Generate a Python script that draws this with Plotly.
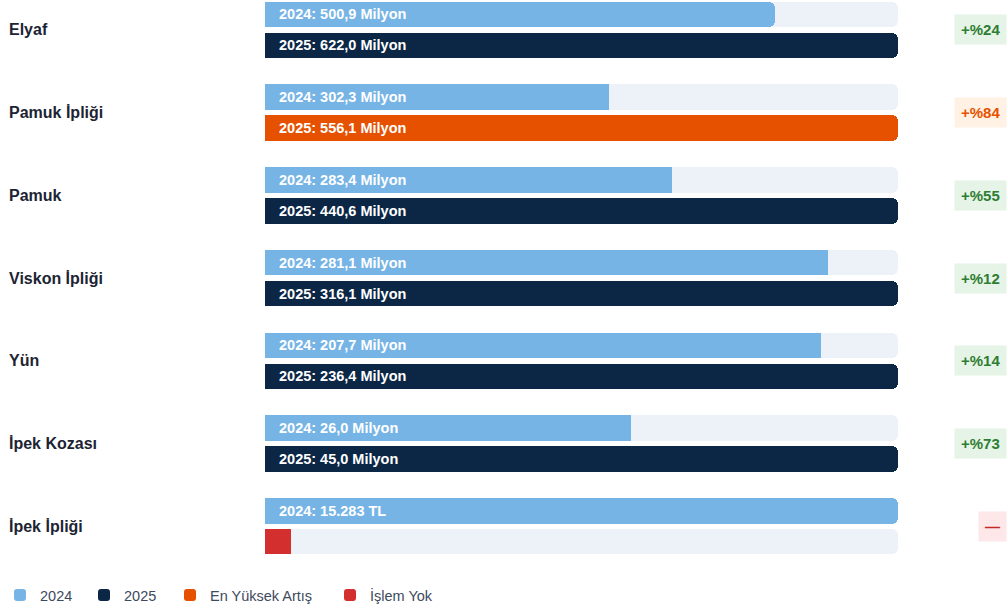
import plotly.graph_objects as go

# ---------------- data ----------------
categories = ["Elyaf", "Pamuk İpliği", "Pamuk", "Viskon İpliği", "Yün", "İpek Kozası", "İpek İpliği"]
values_2024 = [500.9, 302.3, 283.4, 281.1, 207.7, 26.0, 15283]
values_2025 = [622.0, 556.1, 440.6, 316.1, 236.4, 45.0, None]
labels_2024 = ["2024: 500,9 Milyon", "2024: 302,3 Milyon", "2024: 283,4 Milyon", "2024: 281,1 Milyon",
               "2024: 207,7 Milyon", "2024: 26,0 Milyon", "2024: 15.283 TL"]
labels_2025 = ["2025: 622,0 Milyon", "2025: 556,1 Milyon", "2025: 440,6 Milyon", "2025: 316,1 Milyon",
               "2025: 236,4 Milyon", "2025: 45,0 Milyon", ""]
legend_names = ["2024", "2025", "En Yüksek Artış", "İşlem Yok"]

# ---------------- styling ----------------
W, H = 1007, 611
TRACK_L, TRACK_W = 265, 633          # px of the bar track
ROW0, ROW_STEP = 14.5, 83            # px centre of first bar, px per category
SUB_OFF = 31 / ROW_STEP              # offset of the 2025 bar inside a category
BAR_W = 25.5 / ROW_STEP
STUB = 26 / TRACK_W                  # length of the "no transaction" marker

C24 = "#76b4e6"
C25 = "#0c2746"
CMAX = "#e65100"
CNONE = "#d32f2f"
CTRACK = "#edf1f8"
FONT = "Liberation Sans, Arial, sans-serif"
LEG_W = [39, 41, 115, 80]            # legend entry text widths (px)

n = len(categories)
y24 = [i for i in range(n)]
y25 = [i + SUB_OFF for i in range(n)]
ymid = [i + SUB_OFF / 2 for i in range(n)]

frac24, frac25, changes = [], [], []
for a, b in zip(values_2024, values_2025):
    if b is None:
        frac24.append(1.0)
        frac25.append(None)
        changes.append(None)
    else:
        m = max(a, b)
        frac24.append(a / m)
        frac25.append(b / m)
        changes.append(round((b / a - 1) * 100))

valid = [c for c in changes if c is not None]
imax = changes.index(max(valid))

fig = go.Figure()

# background tracks
fig.add_trace(go.Bar(
    x=[1.0] * (2 * n), y=y24 + y25, orientation="h", width=BAR_W,
    marker=dict(color=CTRACK, line=dict(width=0)), showlegend=False, hoverinfo="skip"))

# 2024
fig.add_trace(go.Bar(
    x=frac24, y=y24, orientation="h", width=BAR_W, name=legend_names[0], legendwidth=LEG_W[0],
    marker=dict(color=C24, line=dict(width=0)), hoverinfo="skip"))

# 2025 (regular)
idx25 = [i for i in range(n) if frac25[i] is not None and i != imax]
fig.add_trace(go.Bar(
    x=[frac25[i] for i in idx25], y=[y25[i] for i in idx25], orientation="h", width=BAR_W,
    name=legend_names[1], legendwidth=LEG_W[1],
    marker=dict(color=C25, line=dict(width=0)), hoverinfo="skip"))

# highest increase
fig.add_trace(go.Bar(
    x=[frac25[imax]], y=[y25[imax]], orientation="h", width=BAR_W,
    name=legend_names[2], legendwidth=LEG_W[2],
    marker=dict(color=CMAX, line=dict(width=0)), hoverinfo="skip"))

# no transaction
idxnone = [i for i in range(n) if frac25[i] is None]
fig.add_trace(go.Bar(
    x=[STUB] * len(idxnone), y=[y25[i] for i in idxnone], orientation="h", width=BAR_W,
    name=legend_names[3], legendwidth=LEG_W[3],
    marker=dict(color=CNONE, line=dict(width=0)), hoverinfo="skip"))

annotations = []
# bar texts
for i in range(n):
    annotations.append(dict(x=0, y=y24[i], xref="x", yref="y", text=labels_2024[i], showarrow=False,
                            xanchor="left", yanchor="middle", xshift=12,
                            font=dict(family=FONT, size=14.5, color="white", weight="bold")))
    if labels_2025[i]:
        annotations.append(dict(x=0, y=y25[i], xref="x", yref="y", text=labels_2025[i], showarrow=False,
                                xanchor="left", yanchor="middle", xshift=12,
                                font=dict(family=FONT, size=14.5, color="white", weight="bold")))
# category labels
for i, c in enumerate(categories):
    annotations.append(dict(x=7 / W, y=ymid[i], xref="paper", yref="y", text=c, showarrow=False,
                            xanchor="left", yanchor="middle",
                            font=dict(family=FONT, size=16, color="#1c2433", weight="bold")))
# change badges
for i, ch in enumerate(changes):
    if ch is None:
        txt, fg, bg = "—", "#c62828", "#fde7e9"
    elif i == imax:
        txt, fg, bg = f"+%{ch}", CMAX, "#fff1e3"
    else:
        txt, fg, bg = f"+%{ch}", "#2e7d32", "#e6f4e7"
    annotations.append(dict(x=1007 / W, y=ymid[i], xref="paper", yref="y", text=txt,
                            showarrow=False, xanchor="right", yanchor="middle", bgcolor=bg, borderpad=6,
                            font=dict(family=FONT, size=15, color=fg, weight="bold")))

fig.update_layout(
    width=W, height=H, autosize=False,
    margin=dict(l=0, r=0, t=0, b=0),
    paper_bgcolor="white", plot_bgcolor="white",
    barmode="overlay", barcornerradius=6, bargap=0,
    xaxis=dict(range=[-TRACK_L / TRACK_W, (W - TRACK_L) / TRACK_W], visible=False, fixedrange=True),
    yaxis=dict(range=[(H - ROW0) / ROW_STEP, -ROW0 / ROW_STEP], visible=False, fixedrange=True),
    annotations=annotations,
    showlegend=True,
    legend=dict(orientation="h", x=0, xanchor="left",
                y=1 - 597 / H, yanchor="middle",
                font=dict(family=FONT, size=14.5, color="#3d4a5c"), bgcolor="rgba(0,0,0,0)",
                traceorder="normal", itemclick=False, itemdoubleclick=False),
    hovermode=False,
)

fig.write_html("out.html", config={"displayModeBar": False},
               post_script="document.body.style.margin='0';")
